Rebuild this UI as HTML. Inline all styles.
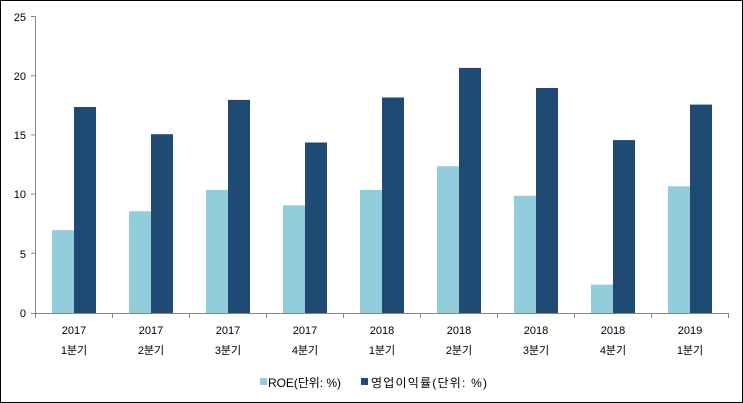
<!DOCTYPE html>
<html><head><meta charset="utf-8"><style>
html,body{margin:0;padding:0;background:#fff}
svg{display:block}
text{font-family:"Liberation Sans","Noto Sans CJK KR",sans-serif;font-size:11px;fill:#000}
</style></head><body>
<svg width="743" height="403" viewBox="0 0 743 403">
<rect x="0.5" y="0.5" width="742" height="402" fill="#fff" stroke="#000"/>
<g fill="#92CDDC">
<rect x="52" y="230.1" width="22" height="82.9"/>
<rect x="129" y="211.2" width="22" height="101.8"/>
<rect x="206" y="189.9" width="22" height="123.1"/>
<rect x="283" y="205.3" width="22" height="107.7"/>
<rect x="360" y="189.9" width="22" height="123.1"/>
<rect x="437" y="166.2" width="22" height="146.8"/>
<rect x="514" y="195.8" width="22" height="117.2"/>
<rect x="591" y="284.6" width="22" height="28.4"/>
<rect x="668" y="186.3" width="22" height="126.7"/>
</g>
<g fill="#1F4A74">
<rect x="74" y="107" width="22" height="206"/>
<rect x="151" y="134.2" width="22" height="178.8"/>
<rect x="228" y="99.9" width="22" height="213.1"/>
<rect x="305" y="142.5" width="22" height="170.5"/>
<rect x="382" y="97.5" width="22" height="215.5"/>
<rect x="459" y="67.9" width="22" height="245.1"/>
<rect x="536" y="88" width="22" height="225"/>
<rect x="613" y="140.1" width="22" height="172.9"/>
<rect x="690" y="104.6" width="22" height="208.4"/>
</g>
<g stroke="#868686" stroke-width="1" fill="none">
<path d="M35.5 16.5V313.5H728"/>
<path d="M31 16.5H35.5M31 75.7H35.5M31 134.9H35.5M31 194.1H35.5M31 253.3H35.5M31 313.5H35.5"/>
<path d="M35.5 313V318M112.5 313V318M189.5 313V318M266.5 313V318M343.5 313V318M420.5 313V318M497.5 313V318M574.5 313V318M651.5 313V318M728.5 313V318"/>
</g>
<g text-anchor="end">
<text x="26" y="21">25</text><text x="26" y="80">20</text><text x="26" y="139">15</text>
<text x="26" y="198">10</text><text x="26" y="258">5</text><text x="26" y="317">0</text>
</g>
<g text-anchor="middle">
<text x="74" y="334">2017</text><text x="74" y="354">1분기</text>
<text x="151" y="334">2017</text><text x="151" y="354">2분기</text>
<text x="228" y="334">2017</text><text x="228" y="354">3분기</text>
<text x="305" y="334">2017</text><text x="305" y="354">4분기</text>
<text x="382" y="334">2018</text><text x="382" y="354">1분기</text>
<text x="459" y="334">2018</text><text x="459" y="354">2분기</text>
<text x="536" y="334">2018</text><text x="536" y="354">3분기</text>
<text x="613" y="334">2018</text><text x="613" y="354">4분기</text>
<text x="690" y="334">2019</text><text x="690" y="354">1분기</text>
</g>
<rect x="260" y="378" width="7" height="7" fill="#92CDDC"/>
<text x="268" y="387" style="font-size:12px" textLength="73">ROE(단위: %)</text>
<rect x="361" y="378" width="7" height="7" fill="#1F4A74"/>
<text x="371" y="387" style="font-size:12px" textLength="116">영업이익률(단위: %)</text>
</svg>
</body></html>
